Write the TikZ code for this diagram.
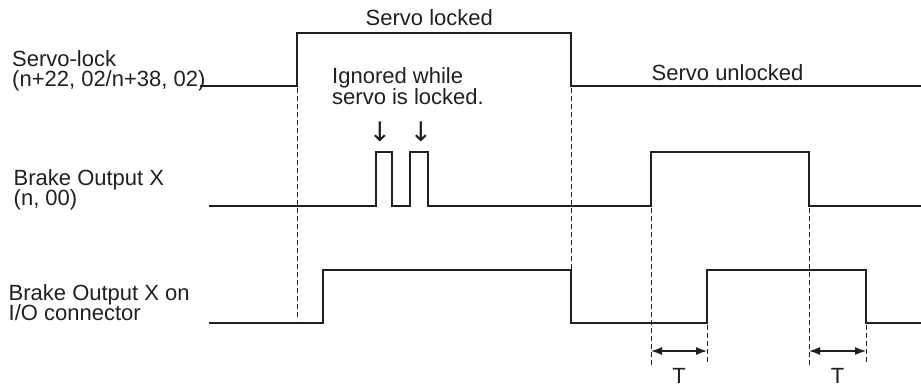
\documentclass[tikz,border=0pt]{standalone}
\usepackage{fontspec}
\setmainfont{Liberation Sans}
\newfontfamily\arrowfont{DejaVu Sans}
\usetikzlibrary{arrows.meta}
\definecolor{ink}{HTML}{231F20}
\begin{document}
\begin{tikzpicture}[x=1pt,y=-1pt,
  sig/.style={draw=ink, line width=1.25pt, line join=miter},
  guide/.style={draw=ink, line width=0.6pt, dash pattern=on 5pt off 3pt},
  lbl/.style={inner sep=0pt, anchor=base west, font=\fontsize{22}{21}\selectfont, text=ink},
  clbl/.style={lbl, anchor=base},
  downarrow/.style={clbl, font=\arrowfont\fontsize{27}{27}\selectfont},
  dimarrow/.style={draw=ink, line width=1.25pt, {Latex[length=11pt,width=8pt]}-{Latex[length=11pt,width=8pt]}}
]
\useasboundingbox (0,0) rectangle (921,387);

% labels
\node[lbl] (sl1) at (12,66.5) {Servo-lock};
\node[lbl] (sl2) at (12,87) {(n+22, 02/n+38, 02)};
\node[lbl] (bo1) at (13.5,186) {Brake Output X};
\node[lbl] (bo2) at (13.5,206) {(n, 00)};
\node[lbl] (io1) at (8.5,301) {Brake Output X on};
\node[lbl] (io2) at (8.5,321) {I/O connector};
\node[lbl] (locked) at (365.5,25.5) {Servo locked};
\node[lbl] (unlocked) at (651.5,81) {Servo unlocked};
\node[lbl] (ign1) at (332,84) {Ignored while};
\node[lbl] (ign2) at (332,105) {servo is locked.};
\node[downarrow] (dn1) at (380,141.5) {↓};
\node[downarrow] (dn2) at (421,141.5) {↓};

% signals
\draw[sig] (200,86) -- (297,86) -- (297,33) -- (571,33) -- (571,86) -- (921,86);
\draw[sig] (209,206) -- (376,206) -- (376,152) -- (392,152) -- (392,206) -- (410,206) -- (410,152) -- (428,152) -- (428,206) -- (651,206) -- (651,152) -- (809,152) -- (809,206) -- (921,206);
\draw[sig] (209,323) -- (323,323) -- (323,270) -- (571,270) -- (571,323) -- (707,323) -- (707,270) -- (866,270) -- (866,323) -- (921,323);

% guides
\draw[guide] (297,88) -- (297,320);
\draw[guide] (571,88) -- (571,270);
\draw[guide] (651,208) -- (651,365);
\draw[guide] (809,208) -- (809,365);
\draw[guide] (707,325) -- (707,365);
\draw[guide] (866,325) -- (866,365);

% timing arrows
\coordinate (t1a) at (651,351);
\coordinate (t1b) at (707,351);
\coordinate (t2a) at (809,351);
\coordinate (t2b) at (866,351);
\draw[dimarrow] (t1a) -- (t1b);
\draw[dimarrow] (t2a) -- (t2b);
\node[clbl] (T1) at (679,383) {T};
\node[clbl] (T2) at (837.5,383) {T};
\end{tikzpicture}
\end{document}
